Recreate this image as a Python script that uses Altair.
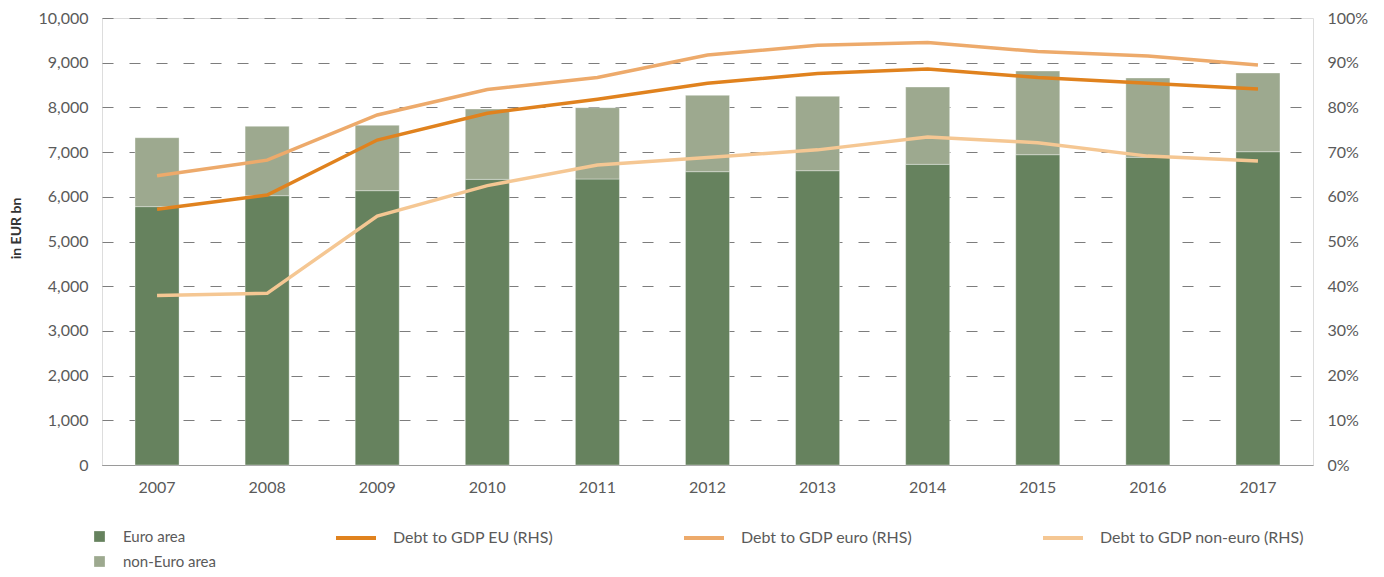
import altair as alt
import pandas as pd

years = ["2007", "2008", "2009", "2010", "2011", "2012", "2013", "2014", "2015", "2016", "2017"]
euro_area = [5780, 6025, 6137, 6390, 6398, 6562, 6584, 6726, 6942, 6883, 7009]
total_debt = [7322, 7577, 7600, 7964, 7994, 8270, 8248, 8456, 8814, 8658, 8770]
non_euro_area = [t - e for t, e in zip(total_debt, euro_area)]

debt_gdp_eu = [57.2, 60.4, 72.7, 78.7, 81.8, 85.4, 87.6, 88.6, 86.7, 85.4, 84.1]
debt_gdp_euro = [64.7, 68.2, 78.3, 84.0, 86.7, 91.7, 93.9, 94.5, 92.5, 91.5, 89.5]
debt_gdp_noneuro = [37.9, 38.4, 55.7, 62.5, 67.1, 68.8, 70.5, 73.4, 72.1, 69.1, 68.0]

bar_series = ["Euro area", "non-Euro area"]
bar_colors = ["#66825E", "#9DA98F"]
line_series = ["Debt to GDP EU (RHS)", "Debt to GDP euro (RHS)", "Debt to GDP non-euro (RHS)"]
line_colors = ["#E0821E", "#EDAA6B", "#F5C793"]

bars = pd.DataFrame(
    [{"year": y, "series": bar_series[0], "value": v, "ord": 0} for y, v in zip(years, euro_area)]
    + [{"year": y, "series": bar_series[1], "value": v, "ord": 1} for y, v in zip(years, non_euro_area)]
)
lines = pd.DataFrame(
    [{"year": y, "series": line_series[0], "ratio": v / 100} for y, v in zip(years, debt_gdp_eu)]
    + [{"year": y, "series": line_series[1], "ratio": v / 100} for y, v in zip(years, debt_gdp_euro)]
    + [{"year": y, "series": line_series[2], "ratio": v / 100} for y, v in zip(years, debt_gdp_noneuro)]
)

FONT = "Lato"
GREY = "#5a5a5a"

x_enc = alt.X(
    "year:N",
    sort=years,
    scale=alt.Scale(paddingInner=0.6, paddingOuter=0.3),
    axis=alt.Axis(
        title=None, labelAngle=0, ticks=False, domain=True, domainColor="#9a9a9a",
        domainWidth=1.2, labelPadding=14, labelFontSize=16, labelColor=GREY, labelFont=FONT,
    ),
)

bar_chart = alt.Chart(bars).mark_bar(stroke="#ffffff", strokeOpacity=0.35, strokeWidth=1).encode(
    x=x_enc,
    y=alt.Y(
        "value:Q",
        stack="zero",
        scale=alt.Scale(domain=[0, 10000], nice=False),
        axis=alt.Axis(
            title="in EUR bn", values=list(range(0, 10001, 1000)), format=",.0f",
            grid=True, gridDash=[11, 16], gridColor="#7d7d7d", gridWidth=1.2,
            ticks=False, domain=False, labelPadding=14, labelFontSize=16,
            labelColor=GREY, labelFont=FONT,
            titleFont=FONT, titleFontSize=14, titleFontWeight="bold", titleColor="#333333",
            titleAngle=-90, titleX=-86, titleY=210, titleAlign="center", titleBaseline="middle",
        ),
    ),
    color=alt.Color(
        "series:N",
        scale=alt.Scale(domain=bar_series, range=bar_colors),
        legend=alt.Legend(
            title=None, orient="none", legendX=-10, legendY=511, direction="vertical",
            symbolType="square", symbolSize=115, symbolStrokeWidth=0, labelOffset=16,
            rowPadding=9, labelFontSize=15, labelColor=GREY, labelFont=FONT, padding=0,
            labelLimit=400,
        ),
    ),
    order=alt.Order("ord:Q"),
)

line_chart = alt.Chart(lines).mark_line(strokeWidth=3.5).encode(
    x=alt.X("year:N", sort=years),
    y=alt.Y(
        "ratio:Q",
        scale=alt.Scale(domain=[0, 1], nice=False),
        axis=alt.Axis(
            orient="right", title=None, values=[i / 10 for i in range(11)], format=".0%",
            grid=False, ticks=False, domain=False, labelPadding=14, labelFontSize=16,
            labelColor=GREY, labelFont=FONT,
        ),
    ),
    color=alt.Color(
        "series:N",
        sort=line_series,
        scale=alt.Scale(domain=line_series, range=line_colors),
        legend=alt.Legend(
            title=None, orient="none", legendX=232, legendY=498, direction="horizontal",
            columns=3, columnPadding=122, symbolType="stroke", symbolSize=1600,
            symbolStrokeWidth=4, labelOffset=15, labelFontSize=16, labelColor=GREY,
            labelFont=FONT, padding=0, labelLimit=400,
        ),
    ),
)

chart = (
    alt.layer(bar_chart, line_chart)
    .resolve_scale(y="independent", color="independent")
    .resolve_legend(color="independent")
    .properties(
        width=1211,
        height=447,
        autosize=alt.AutoSizeParams(type="none"),
        padding={"left": 94, "top": 10, "right": 63, "bottom": 104},
    )
    .configure_view(stroke=None)
    .configure(font=FONT)
)

chart.save("out.html", embed_options={"renderer": "svg", "actions": False})
